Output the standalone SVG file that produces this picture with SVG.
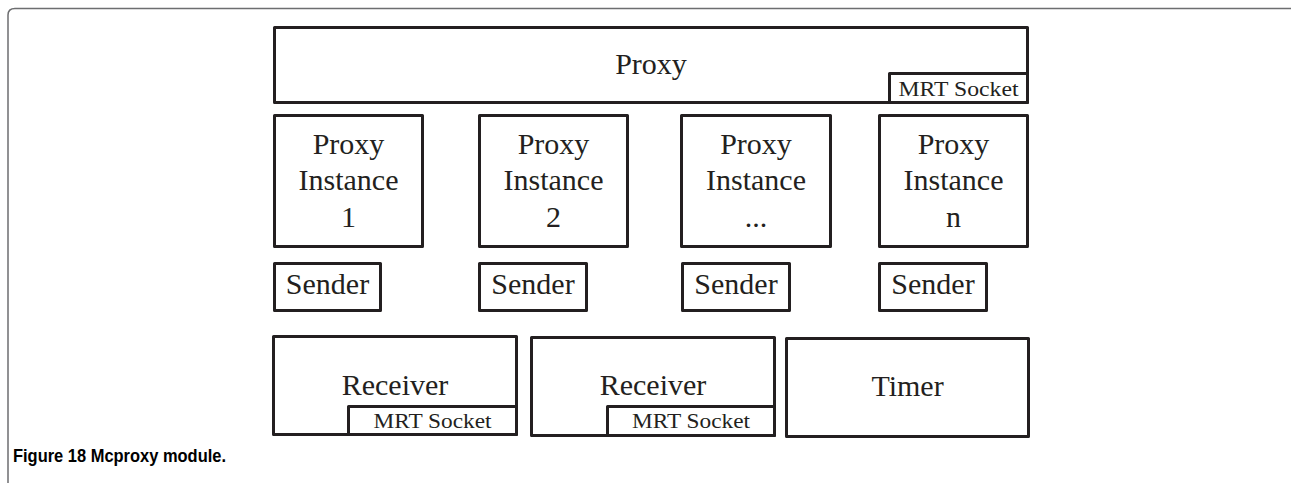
<svg xmlns="http://www.w3.org/2000/svg" width="1291" height="483" viewBox="0 0 1291 483">
  <style>
    .box { fill: #ffffff; stroke: #231f20; stroke-width: 3; stroke-linejoin: round; }
    .lbl { font-family: "Liberation Serif", "Times New Roman", serif; font-size: 30px; fill: #231f20; text-anchor: middle; }
    .sock { font-family: "Liberation Serif", "Times New Roman", serif; font-size: 21px; fill: #231f20; text-anchor: middle; }
    .frame { fill: none; stroke: #6d6e70; stroke-width: 1.5; }
    .caption { font-family: "Liberation Sans", Arial, sans-serif; font-size: 18px; font-weight: bold; fill: #000000; }
  </style>
  <rect width="1291" height="483" fill="#ffffff"/>

  <!-- figure frame: top rule and left rule with rounded corner -->
  <path class="frame" d="M 8 483 L 8 15 Q 8 8.5 15 8.5 L 1291 8.5"/>

  <!-- top-level proxy with its MRT socket -->
  <g id="proxy">
    <rect class="box" x="274.5" y="27.5" width="753" height="75"/>
    <text class="lbl" x="651" y="74">Proxy</text>
    <rect class="box" x="889.5" y="73.5" width="138" height="29"/>
    <text class="sock" x="958.5" y="96" textLength="120" lengthAdjust="spacingAndGlyphs">MRT Socket</text>
  </g>

  <!-- proxy instances -->
  <g id="instance-1">
    <rect class="box" x="274.5" y="115.5" width="148" height="131"/>
    <text class="lbl" x="348.5" y="154">Proxy</text>
    <text class="lbl" x="348.5" y="190">Instance</text>
    <text class="lbl" x="348.5" y="227">1</text>
  </g>
  <g id="instance-2">
    <rect class="box" x="479.5" y="115.5" width="148" height="131"/>
    <text class="lbl" x="553.5" y="154">Proxy</text>
    <text class="lbl" x="553.5" y="190">Instance</text>
    <text class="lbl" x="553.5" y="227">2</text>
  </g>
  <g id="instance-dots">
    <rect class="box" x="681.5" y="115.5" width="149" height="131"/>
    <text class="lbl" x="756" y="154">Proxy</text>
    <text class="lbl" x="756" y="190">Instance</text>
    <text class="lbl" x="756" y="227">...</text>
  </g>
  <g id="instance-n">
    <rect class="box" x="879.5" y="115.5" width="148" height="131"/>
    <text class="lbl" x="953.5" y="154">Proxy</text>
    <text class="lbl" x="953.5" y="190">Instance</text>
    <text class="lbl" x="953.5" y="227">n</text>
  </g>

  <!-- senders -->
  <g id="sender-1">
    <rect class="box" x="274.5" y="263.5" width="106" height="47"/>
    <text class="lbl" x="327.5" y="294">Sender</text>
  </g>
  <g id="sender-2">
    <rect class="box" x="479.5" y="263.5" width="107" height="47"/>
    <text class="lbl" x="533" y="294">Sender</text>
  </g>
  <g id="sender-3">
    <rect class="box" x="682.5" y="263.5" width="107" height="47"/>
    <text class="lbl" x="736" y="294">Sender</text>
  </g>
  <g id="sender-4">
    <rect class="box" x="879.5" y="263.5" width="107" height="47"/>
    <text class="lbl" x="933" y="294">Sender</text>
  </g>

  <!-- receivers, each with an MRT socket, and the timer -->
  <g id="receiver-1">
    <rect class="box" x="273.5" y="336.5" width="243" height="98"/>
    <text class="lbl" x="395" y="395">Receiver</text>
    <rect class="box" x="348.5" y="406.5" width="168" height="28"/>
    <text class="sock" x="432.5" y="428" textLength="118" lengthAdjust="spacingAndGlyphs">MRT Socket</text>
  </g>
  <g id="receiver-2">
    <rect class="box" x="531.5" y="337.5" width="243" height="98"/>
    <text class="lbl" x="653" y="395">Receiver</text>
    <rect class="box" x="607.5" y="406.5" width="167" height="29"/>
    <text class="sock" x="691" y="428" textLength="118" lengthAdjust="spacingAndGlyphs">MRT Socket</text>
  </g>
  <g id="timer">
    <rect class="box" x="786.5" y="338.5" width="242" height="98"/>
    <text class="lbl" x="907.5" y="396">Timer</text>
  </g>

  <g id="connectors"></g>

  <text class="caption" x="13" y="462" textLength="213" lengthAdjust="spacingAndGlyphs">Figure 18 Mcproxy module.</text>
</svg>
